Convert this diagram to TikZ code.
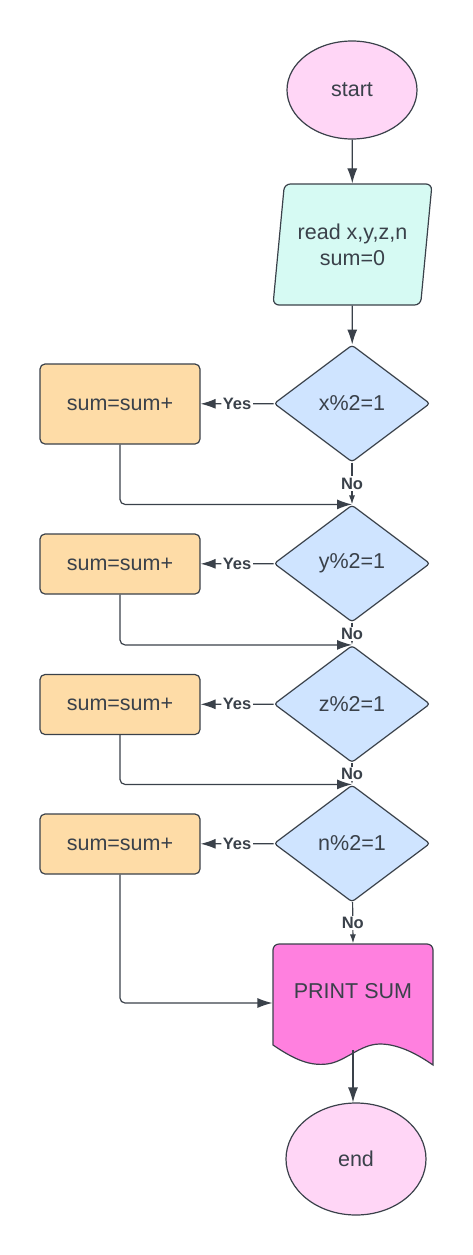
\documentclass[tikz,border=0pt]{standalone}
\usepackage{fontspec}
\setmainfont{Liberation Sans}
\usetikzlibrary{shapes.geometric, arrows.meta, positioning}

\definecolor{ink}{HTML}{3A414A}
\definecolor{termfill}{HTML}{FFD6F6}
\definecolor{iofill}{HTML}{D6FAF3}
\definecolor{testfill}{HTML}{CFE4FF}
\definecolor{sumfill}{HTML}{FEDCA7}
\definecolor{docfill}{HTML}{FF80DF}

\begin{document}
\begin{tikzpicture}[x=1pt, y=-1pt, >={Latex[length=15pt,width=10pt]},
    line width=1.2pt,
    every node/.style={text=ink, font=\fontsize{21.5}{26}\selectfont},
    terminal/.style={ellipse, draw=ink, fill=termfill, minimum width=130, minimum height=98, inner sep=0pt},
    iobox/.style={trapezium, trapezium left angle=76, trapezium right angle=104,
        trapezium stretches body, draw=ink, fill=iofill, minimum width=159,
        minimum height=121, rounded corners=6pt, align=center, inner sep=2pt},
    decision/.style={diamond, aspect=1.33, draw=ink, fill=testfill, minimum width=156,
        minimum height=117, inner sep=0pt, rounded corners=3pt},
    process/.style={rectangle, rounded corners=5pt, draw=ink, fill=sumfill,
        minimum width=160, minimum height=60},
    tag/.style={fill=white, inner sep=1.5pt, font=\bfseries\fontsize{16.5}{18}\selectfont},
    flow/.style={->, draw=ink, rounded corners=5pt},
    nolink/.style={-{Latex[length=9pt,width=6pt]}, draw=ink}]
    \useasboundingbox (0,0) rectangle (473,1255);

    % 1. Khối bắt đầu và nhập dữ liệu
    \node[terminal] (start) at (352,90) {start};
    \node[iobox] (read) at (352.5,244.5) {read x,y,z,n\\sum=0};

    % 2. Các khối điều kiện và cộng dồn
    \node[decision] (dx) at (352,403.5) {x\%2=1};
    \node[process, minimum height=80] (sx) at (120,404) {sum=sum+};
    \node[decision] (dy) at (352,563.5) {y\%2=1};
    \node[process] (sy) at (120,564) {sum=sum+};
    \node[decision] (dz) at (352,704) {z\%2=1};
    \node[process] (sz) at (120,704.5) {sum=sum+};
    \node[decision] (dn) at (352,843.5) {n\%2=1};
    \node[process] (sn) at (120,844) {sum=sum+};

    % 3. Khối in kết quả và kết thúc
    \filldraw[draw=ink, fill=docfill]
        {[rounded corners=6pt] (273,1045) -- (273,944) -- (433,944) -- (433,1000)}
        -- (433,1065)
        .. controls (420,1056) and (400,1044) .. (380,1044)
        .. controls (360,1044) and (345,1062) .. (327,1064)
        .. controls (310,1066) and (295,1060) .. (273,1045) -- cycle;
    \node[minimum width=160, minimum height=94, inner sep=0pt] (print) at (353,991) {PRINT SUM};
    \coordinate (wave) at (353,1050);
    \node[terminal, minimum width=140, minimum height=112] (end) at (356,1159) {end};

    % 4. Đường nối
    \draw[flow] (start) -- (read);
    \draw[flow] (read) -- (dx);
    \draw[flow] (dx) -- node[tag] {Yes} (sx);
    \draw[flow] (dy) -- node[tag] {Yes} (sy);
    \draw[flow] (dz) -- node[tag] {Yes} (sz);
    \draw[flow] (dn) -- node[tag] {Yes} (sn);
    \draw[nolink] (dx) -- node[tag] {No} (dy);
    \draw[nolink] (dy) -- node[tag] {No} (dz);
    \draw[nolink] (dz) -- node[tag] {No} (dn);
    \draw[nolink] (dn) -- node[tag] {No} (print.north);
    \draw[flow] (sx.south) |- (dy.north);
    \draw[flow] (sy.south) |- (dz.north);
    \draw[flow] (sz.south) |- (dn.north);
    \draw[flow] (sn.south) |- ([yshift=-12pt]print.west);
    \draw[flow] (wave) -- (wave |- end.north);
\end{tikzpicture}
\end{document}
